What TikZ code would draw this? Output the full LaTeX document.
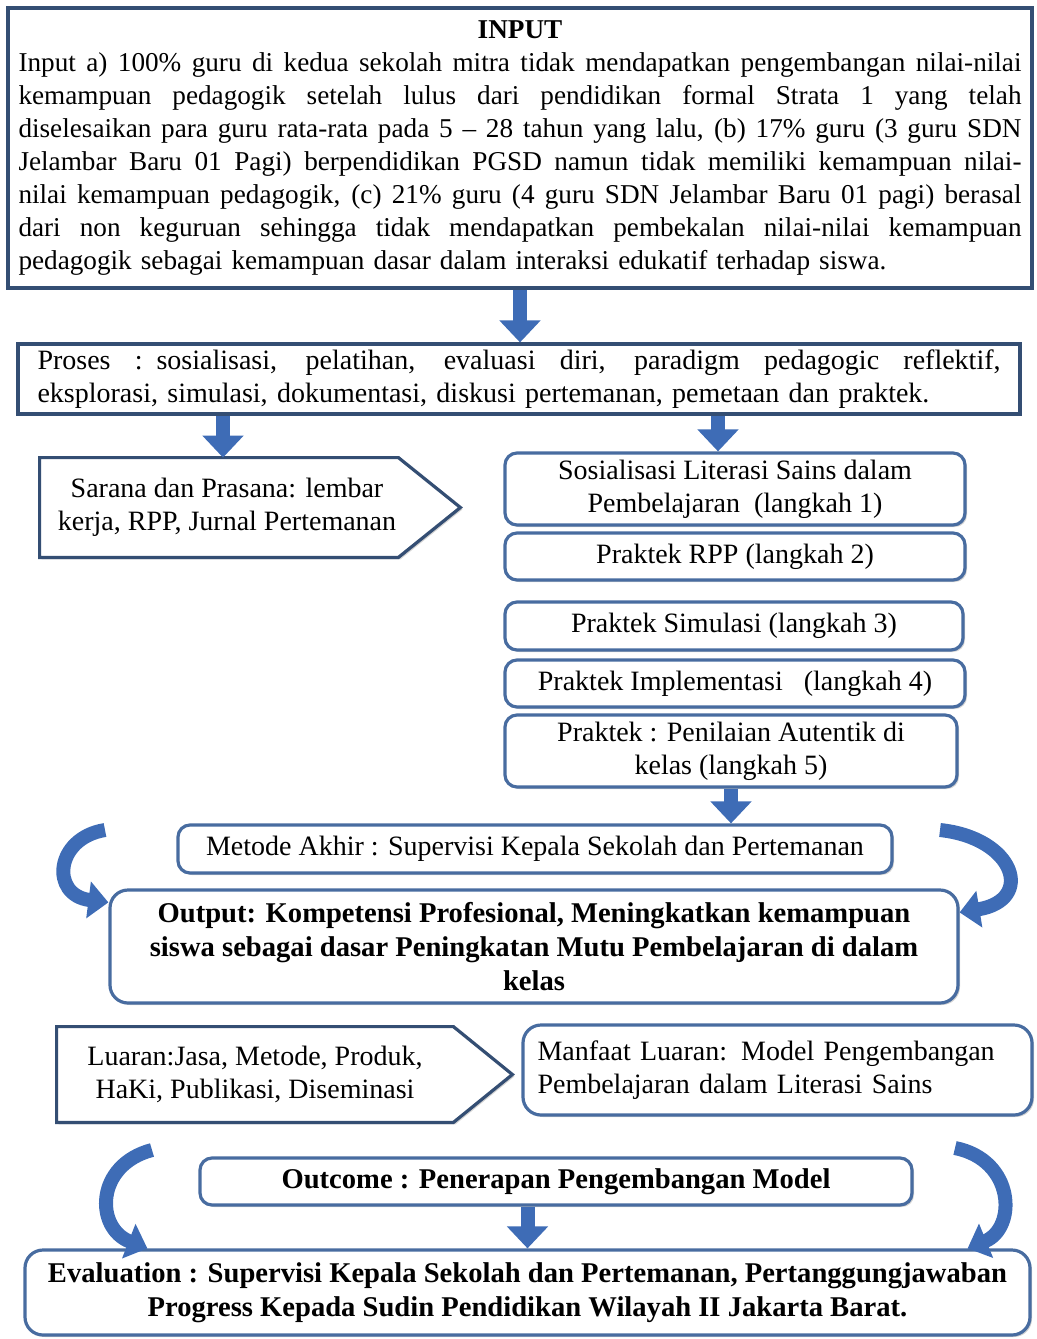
\documentclass[tikz,border=0pt]{standalone}
\usepackage{fontspec}
\setmainfont{Liberation Serif}
\usetikzlibrary{arrows.meta,shadows,backgrounds}

\definecolor{boxline}{RGB}{52,78,115}
\definecolor{rndline}{RGB}{72,108,160}
\definecolor{arrowblue}{RGB}{62,108,182}

% one justified line of a box
\newcommand{\fl}[2][501.5pt]{\leavevmode\hbox to #1{\spaceskip=\fontdimen2\font plus 1fil\relax #2}}

\tikzset{
  every node/.style={font=\fontsize{14}{16.5}\selectfont},
  boldtext/.style={font=\fontsize{14.3}{16.8}\selectfont\bfseries},
  sqbox/.style={draw=boxline, line width=1.6pt, fill=white, inner sep=0pt,
    drop shadow={shadow xshift=1pt, shadow yshift=-1pt, opacity=.35}},
  rndbox/.style={sqbox, draw=rndline, rounded corners=6pt, align=center},
  tagbox/.style={inner sep=0pt, align=center},
  blockarrow/.style={arrowblue, line width=7pt, -{Triangle[width=20pt,length=11pt]}},
  bendarrow/.style={arrowblue, line width=7pt, -{Triangle[width=18pt,length=10pt]}}
}

\begin{document}
\begin{tikzpicture}[x=0.5pt, y=-0.5pt]
\useasboundingbox (0,0) rectangle (1037,1339);

% input and process
\node[sqbox, minimum width=512pt, minimum height=140pt, text width=501.5pt, align=left, font=\fontsize{13.6}{16.5}\selectfont] (input) at (520,148) {%
\makebox[501.5pt]{\textbf{INPUT}}\\
\fl{Input a) 100\% guru di kedua sekolah mitra tidak mendapatkan pengembangan nilai-nilai}\\
\fl{kemampuan pedagogik setelah lulus dari pendidikan formal Strata 1 yang telah}\\
\fl{diselesaikan para guru rata-rata pada 5 -- 28 tahun yang lalu, (b) 17\% guru (3 guru SDN}\\
\fl{Jelambar Baru 01 Pagi) berpendidikan PGSD namun tidak memiliki kemampuan nilai-}\\
\fl{nilai kemampuan pedagogik, (c) 21\% guru (4 guru SDN Jelambar Baru 01 pagi) berasal}\\
\fl{dari non keguruan sehingga tidak mendapatkan pembekalan nilai-nilai kemampuan}\\
pedagogik sebagai kemampuan dasar dalam interaksi edukatif terhadap siswa.};

\node[sqbox, minimum width=501pt, minimum height=35pt, text width=481.5pt, align=left] (proses) at (519,379) {%
\fl[481.5pt]{Proses : sosialisasi, pelatihan, evaluasi diri, paradigm pedagogic reflektif,}\\
eksplorasi, simulasi, dokumentasi, diskusi pertemanan, pemetaan dan praktek.};

% left tag and the five steps
\node[tagbox, minimum width=179pt, minimum height=49.5pt, xshift=4pt] (sarana) at (219,507.5)
  {Sarana dan Prasana: lembar\\ kerja, RPP, Jurnal Pertemanan};

\node[rndbox, minimum width=230pt, minimum height=36pt] (sos) at (735,489)
  {Sosialisasi Literasi Sains dalam\\ Pembelajaran\ \ (langkah 1)};
\node[rndbox, minimum width=230pt, minimum height=23.5pt] (rpp) at (735,556.5) {Praktek RPP (langkah 2)};
\node[rndbox, minimum width=229pt, minimum height=24pt] (sim) at (734,626) {Praktek Simulasi (langkah 3)};
\node[rndbox, minimum width=230pt, minimum height=23.5pt] (impl) at (735,683.5) {Praktek Implementasi\ \ \ (langkah 4)};
\node[rndbox, minimum width=226pt, minimum height=36pt] (nilai) at (731,751)
  {Praktek : Penilaian Autentik di\\ kelas (langkah 5)};

% method and output
\node[rndbox, minimum width=357pt, minimum height=24pt] (metode) at (535,849)
  {Metode Akhir : Supervisi Kepala Sekolah dan Pertemanan};
\node[rndbox, boldtext, rounded corners=9pt, minimum width=424pt, minimum height=56.5pt] (output) at (534,946.5)
  {Output: Kompetensi Profesional, Meningkatkan kemampuan\\ siswa sebagai dasar Peningkatan Mutu Pembelajaran di dalam\\ kelas};

\node[tagbox, minimum width=198pt, minimum height=47.5pt] (luaran) at (255,1074.5)
  {Luaran:Jasa, Metode, Produk,\\ HaKi, Publikasi, Diseminasi};
\node[rndbox, rounded corners=9pt, minimum width=254.5pt, minimum height=45pt, text width=240pt, align=left] (manfaat) at (777.5,1070)
  {Manfaat Luaran: Model Pengembangan\\ Pembelajaran dalam Literasi Sains};

% outcome and evaluation
\node[rndbox, boldtext, minimum width=356pt, minimum height=23.5pt] (outcome) at (556,1181.5)
  {Outcome : Penerapan Pengembangan Model};
\node[rndbox, boldtext, rounded corners=9pt, minimum width=502.5pt, minimum height=42.5pt] (eval) at (527.5,1292.5)
  {Evaluation : Supervisi Kepala Sekolah dan Pertemanan, Pertanggungjawaban\\ Progress Kepada Sudin Pendidikan Wilayah II Jakarta Barat.};

% tag outlines
\begin{scope}[on background layer]
\draw[sqbox] ([xshift=-4pt]sarana.north west) -- ([xshift=-4pt]sarana.north east) -- ([xshift=27pt]sarana.east) -- ([xshift=-4pt]sarana.south east) -- ([xshift=-4pt]sarana.south west) -- cycle;
\draw[sqbox] (luaran.north west) -- (luaran.north east) -- ([xshift=29.5pt]luaran.east) -- (luaran.south east) -- (luaran.south west) -- cycle;
\end{scope}

% straight arrows
\draw[blockarrow] (input.south) -- (input.south |- proses.north);
\draw[blockarrow] ([xshift=-2pt]proses.south -| sarana.north) -- ([xshift=-2pt]sarana.north);
\draw[blockarrow] ([xshift=-8.5pt]proses.south -| sos.north) -- ([xshift=-8.5pt]sos.north);
\draw[blockarrow] (nilai.south) -- (nilai.south |- metode.north);
\draw[blockarrow] (outcome.south -| eval.north) -- (eval.north);

% bent arrows
\coordinate (cl1) at (105,830);
\coordinate (cr1) at (940,830);
\coordinate (cl2) at (152,1150);
\coordinate (cr2) at (955,1148);
\draw[bendarrow] (cl1) .. controls (55,838) and (50,895) .. ([yshift=-7pt]output.north west);
\draw[bendarrow] (cr1) .. controls (1015,838) and (1035,900) .. ([yshift=-12pt]output.north east);
\draw[bendarrow] (cl2) .. controls (95,1165) and (95,1228) .. ([xshift=62pt]eval.north west);
\draw[bendarrow] (cr2) .. controls (1015,1160) and (1017,1228) .. ([xshift=-32pt]eval.north east);
\end{tikzpicture}
\end{document}
